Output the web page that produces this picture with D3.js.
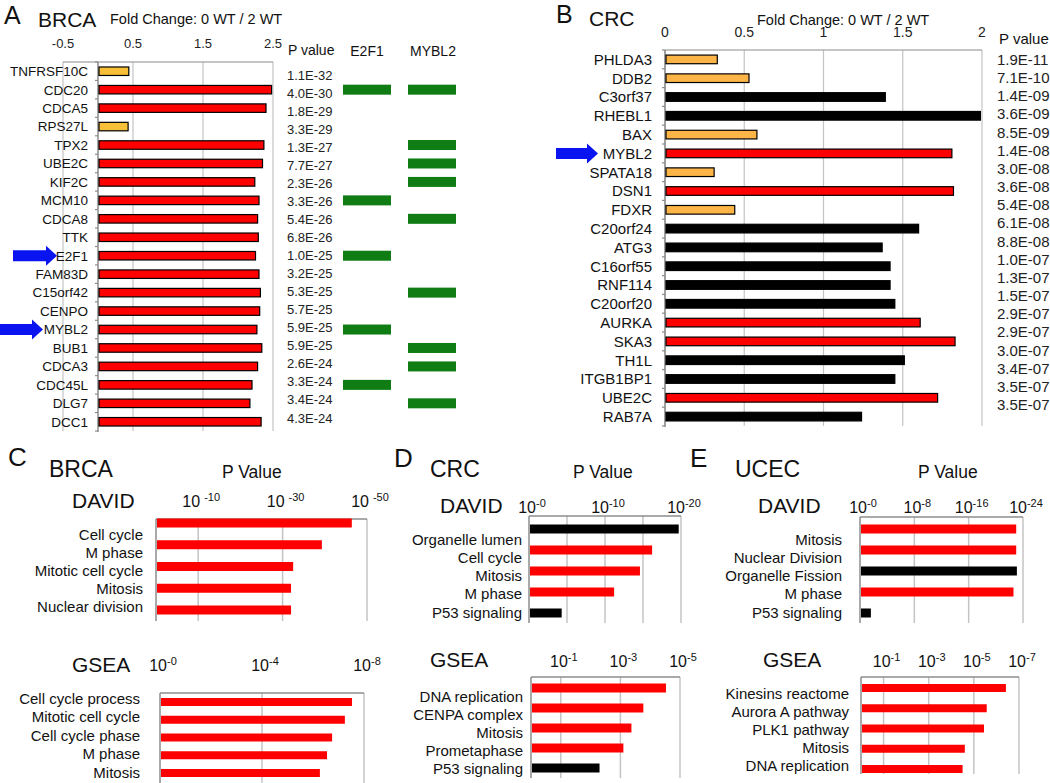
<!DOCTYPE html>
<html>
<head>
<meta charset="utf-8">
<script src="https://cdn.jsdelivr.net/npm/d3@7"></script>
<style>
body { margin: 0; background: #fff; }
svg { font-family: "Liberation Sans", Arial, sans-serif; }
</style>
</head>
<body>
<svg id="fig" width="1050" height="783"></svg>
<script>
// ---- A: BRCA fold change ----
var brcaGenes = ["TNFRSF10C","CDC20","CDCA5","RPS27L","TPX2","UBE2C","KIF2C","MCM10","CDCA8","TTK",
                 "E2F1","FAM83D","C15orf42","CENPO","MYBL2","BUB1","CDCA3","CDC45L","DLG7","DCC1"];
var brcaFold = [0.44,2.48,2.40,0.43,2.37,2.35,2.24,2.30,2.28,2.29,2.25,2.30,2.32,2.31,2.27,2.34,2.28,2.20,2.17,2.33];
var brcaGroup = ["p53","cycle","cycle","p53","cycle","cycle","cycle","cycle","cycle","cycle",
                 "cycle","cycle","cycle","cycle","cycle","cycle","cycle","cycle","cycle","cycle"];
var brcaPval = ["1.1E-32","4.0E-30","1.8E-29","3.3E-29","1.3E-27","7.7E-27","2.3E-26","3.3E-26","5.4E-26","6.8E-26",
                "1.0E-25","3.2E-25","5.3E-25","5.7E-25","5.9E-25","5.9E-25","2.6E-24","3.3E-24","3.4E-24","4.3E-24"];
var brcaE2F1  = [0,1,0,0,0,0,0,1,0,0,1,0,0,0,1,0,0,1,0,0];
var brcaMYBL2 = [0,1,0,0,1,1,1,0,1,0,0,0,1,0,0,1,1,0,1,0];
var brcaTicks = [-0.5, 0.5, 1.5, 2.5];

// ---- B: CRC fold change ----
var crcGenes = ["PHLDA3","DDB2","C3orf37","RHEBL1","BAX","MYBL2","SPATA18","DSN1","FDXR","C20orf24",
                "ATG3","C16orf55","RNF114","C20orf20","AURKA","SKA3","TH1L","ITGB1BP1","UBE2C","RAB7A"];
var crcFold = [0.33,0.53,1.39,1.99,0.58,1.81,0.31,1.82,0.44,1.60,1.37,1.42,1.42,1.45,1.61,1.83,1.51,1.45,1.72,1.24];
var crcGroup = ["p53","p53","other","other","p53","cycle","p53","cycle","p53","other",
                "other","other","other","other","cycle","cycle","other","other","cycle","other"];
var crcPval = ["1.9E-11","7.1E-10","1.4E-09","3.6E-09","8.5E-09","1.4E-08","3.0E-08","3.6E-08","5.4E-08","6.1E-08",
               "8.8E-08","1.0E-07","1.3E-07","1.5E-07","2.9E-07","2.9E-07","3.0E-07","3.4E-07","3.5E-07","3.5E-07"];
var crcTicks = [0, 0.5, 1, 1.5, 2];

// ---- C/D/E: enrichment, -log10(P) ----
var cDavidTerms = ["Cell cycle","M phase","Mitotic cell cycle","Mitosis","Nuclear division"];
var cDavidLogP = [46.4, 39.3, 32.5, 32.0, 32.0];
var cDavidGroup = ["cycle","cycle","cycle","cycle","cycle"];
var cDavidTicks = [10, 30, 50];

var cGseaTerms = ["Cell cycle process","Mitotic cell cycle","Cell cycle phase","M phase","Mitosis"];
var cGseaLogP = [7.53, 7.25, 6.75, 6.55, 6.27];
var cGseaGroup = ["cycle","cycle","cycle","cycle","cycle"];
var cGseaTicks = [0, 4, 8];

var dDavidTerms = ["Organelle lumen","Cell cycle","Mitosis","M phase","P53 signaling"];
var dDavidLogP = [19.7, 16.2, 14.6, 11.2, 4.3];
var dDavidGroup = ["other","cycle","cycle","cycle","other"];
var dDavidTicks = [0, 10, 20];

var dGseaTerms = ["DNA replication","CENPA complex","Mitosis","Prometaphase","P53 signaling"];
var dGseaLogP = [4.53, 3.77, 3.37, 3.10, 2.30];
var dGseaGroup = ["cycle","cycle","cycle","cycle","other"];
var dGseaTicks = [1, 3, 5];

var eDavidTerms = ["Mitosis","Nuclear Division","Organelle Fission","M phase","P53 signaling"];
var eDavidLogP = [23.0, 23.0, 23.1, 22.6, 1.6];
var eDavidGroup = ["cycle","cycle","other","cycle","other"];
var eDavidTicks = [0, 8, 16, 24];

var eGseaTerms = ["Kinesins reactome","Aurora A pathway","PLK1 pathway","Mitosis","DNA replication"];
var eGseaLogP = [6.42, 5.57, 5.45, 4.60, 4.50];
var eGseaGroup = ["cycle","cycle","cycle","cycle","cycle"];
var eGseaTicks = [1, 3, 5, 7];

var svg = d3.select("#fig");
var axisCol = "#8c8c8c", gridCol = "#c4c4c4";
var colorA = d3.scaleOrdinal().domain(["p53","cycle","other"]).range(["#f8bf38","#ff0000","#000000"]);
var colorB = d3.scaleOrdinal().domain(["p53","cycle","other"]).range(["#fdb547","#ff0000","#000000"]);

function label(x, y, txt, size, anchor) {
  return svg.append("text").attr("x", x).attr("y", y).attr("font-size", size)
    .attr("text-anchor", anchor || "start").attr("fill", "#111").text(txt);
}

function arrow(x0, x1, y) {
  var head = 11, sh = 5.5, hh = 10;
  svg.append("path")
    .attr("d", "M" + x0 + "," + (y - sh) + "H" + (x1 - head) + "V" + (y - hh) + "L" + x1 + "," + y +
               "L" + (x1 - head) + "," + (y + hh) + "V" + (y + sh) + "H" + x0 + "Z")
    .attr("fill", "#0a14f0");
}

// generic fold-change bar panel
function foldPanel(genes, vals, groups, ticks, color, x, y, opt) {
  var g = svg.append("g");
  g.selectAll(".grid").data(ticks).enter().append("line")
    .attr("x1", x).attr("x2", x).attr("y1", y.range()[0]).attr("y2", y.range()[1])
    .attr("stroke", gridCol).attr("stroke-width", 1.2);
  g.append("line").attr("x1", x.range()[0]).attr("x2", x.range()[1])
    .attr("y1", y.range()[0]).attr("y2", y.range()[0]).attr("stroke", axisCol).attr("stroke-width", 1.2);
  g.append("line").attr("x1", x(0)).attr("x2", x(0))
    .attr("y1", y.range()[0]).attr("y2", y.range()[1] + 1).attr("stroke", axisCol).attr("stroke-width", 1.5);
  g.selectAll(".tk").data(d3.range(genes.length + 1)).enter().append("line")
    .attr("x1", x(0) - 3).attr("x2", x(0))
    .attr("y1", function(i) { return y.range()[0] + i * y.step(); })
    .attr("y2", function(i) { return y.range()[0] + i * y.step(); })
    .attr("stroke", axisCol).attr("stroke-width", 1.2);
  g.selectAll(".tl").data(ticks).enter().append("text")
    .attr("x", function(d) { return x(d); }).attr("y", opt.tickY)
    .attr("text-anchor", "middle").attr("font-size", opt.tickSize).attr("fill", "#222")
    .text(function(d) { return d; });
  g.selectAll(".bar").data(genes).enter().append("rect")
    .attr("x", x(0) + 1).attr("y", function(d) { return y(d); })
    .attr("width", function(d, i) { return x(vals[i]) - x(0) - 1; })
    .attr("height", y.bandwidth())
    .attr("fill", function(d, i) { return color(groups[i]); })
    .attr("stroke", "#000").attr("stroke-width", 1.2);
  g.selectAll(".gl").data(genes).enter().append("text")
    .attr("x", opt.labelX).attr("y", function(d) { return y(d) + y.bandwidth() / 2 + opt.labelSize * 0.36; })
    .attr("text-anchor", "end").attr("font-size", opt.labelSize).attr("fill", "#111")
    .text(function(d) { return d; });
}

// ---- panel A ----
var xA = d3.scaleLinear().domain([-0.5, 2.5]).range([63, 273]);
var yA = d3.scaleBand().domain(brcaGenes).range([62, 431]).paddingInner(0.54).paddingOuter(0.27);
foldPanel(brcaGenes, brcaFold, brcaGroup, brcaTicks, colorA, xA, yA,
  { tickY: 48, tickSize: 13, labelX: 88, labelSize: 13.5 });
label(4, 24, "A", 25);
label(38, 27, "BRCA", 21);
label(110, 24, "Fold Change: 0 WT / 2 WT", 14.5);
label(288, 55, "P value", 14);
label(367, 56, "E2F1", 14, "middle");
label(433, 56, "MYBL2", 14, "middle");
var yPA = d3.scalePoint().domain(d3.range(brcaPval.length)).range([75, 418]);
svg.selectAll(".pa").data(brcaPval).enter().append("text")
  .attr("x", 287).attr("y", function(d, i) { return yPA(i) + 4.5; })
  .attr("font-size", 13).attr("fill", "#222").text(function(d) { return d; });
var boundCols = [{name: "E2F1", flags: brcaE2F1, x: 343}, {name: "MYBL2", flags: brcaMYBL2, x: 408}];
boundCols.forEach(function(c) {
  svg.selectAll(".b" + c.name).data(brcaGenes.filter(function(d, i) { return c.flags[i]; }))
    .enter().append("rect")
    .attr("x", c.x).attr("y", function(d) { return yA(d) + yA.bandwidth() / 2 - 5; })
    .attr("width", 48).attr("height", 10).attr("fill", "#0f7d14");
});
arrow(13, 57, yA("E2F1") + yA.bandwidth() / 2);
arrow(0, 43, yA("MYBL2") + yA.bandwidth() / 2);

// ---- panel B ----
var xB = d3.scaleLinear().domain([0, 2]).range([665, 982]);
var yB = d3.scaleBand().domain(crcGenes).range([50, 426]).paddingInner(0.54).paddingOuter(0.27);
foldPanel(crcGenes, crcFold, crcGroup, crcTicks, colorB, xB, yB,
  { tickY: 37, tickSize: 14, labelX: 652, labelSize: 15 });
label(556, 23, "B", 25);
label(589, 26, "CRC", 21);
label(757, 25, "Fold Change: 0 WT / 2 WT", 14.5);
label(999, 44, "P value", 15);
var yPB = d3.scalePoint().domain(d3.range(crcPval.length)).range([60, 405]);
svg.selectAll(".pb").data(crcPval).enter().append("text")
  .attr("x", 997).attr("y", function(d, i) { return yPB(i) + 5; })
  .attr("font-size", 15).attr("fill", "#222").text(function(d) { return d; });
arrow(556, 598, yB("MYBL2") + yB.bandwidth() / 2);

// ---- enrichment panels ----
function enrich(terms, vals, groups, ticks, cfg) {
  var g = svg.append("g");
  var x = d3.scaleLinear().domain([0, cfg.max]).range([cfg.x0, cfg.x1]);
  var yb = d3.scalePoint().domain(terms).range(cfg.bars);
  var yl = d3.scalePoint().domain(terms).range(cfg.labels);
  g.selectAll(".grid").data(cfg.grid).enter().append("line")
    .attr("x1", x).attr("x2", x).attr("y1", cfg.top).attr("y2", cfg.bottom)
    .attr("stroke", gridCol).attr("stroke-width", 1.5);
  g.append("line").attr("x1", cfg.x0).attr("x2", cfg.x1).attr("y1", cfg.top).attr("y2", cfg.top)
    .attr("stroke", axisCol).attr("stroke-width", 1.5);
  g.append("line").attr("x1", cfg.x0).attr("x2", cfg.x0).attr("y1", cfg.top).attr("y2", cfg.bottom)
    .attr("stroke", axisCol).attr("stroke-width", 1.5);
  g.selectAll(".bar").data(terms).enter().append("rect")
    .attr("x", cfg.x0 + 1).attr("y", function(d) { return yb(d) - cfg.barH / 2; })
    .attr("width", function(d, i) { return x(vals[i]) - cfg.x0 - 1; })
    .attr("height", cfg.barH)
    .attr("fill", function(d, i) { return colorA(groups[i]); });
  g.selectAll(".lab").data(terms).enter().append("text")
    .attr("x", cfg.labelX).attr("y", function(d) { return yl(d) + 5.5; })
    .attr("text-anchor", "end").attr("font-size", 15).attr("fill", "#111")
    .text(function(d) { return d; });
  var tl = g.selectAll(".tl").data(ticks).enter().append("text")
    .attr("x", function(d) { return x(d) + 3; }).attr("y", cfg.tickY)
    .attr("text-anchor", "middle").attr("font-size", 16).attr("fill", "#111");
  tl.append("tspan").text("10");
  tl.append("tspan").attr("dx", cfg.supGap || 0).attr("dy", -6).attr("font-size", 11)
    .text(function(d) { return "-" + d; });
}

// C
label(8, 466, "C", 26);
label(49, 477, "BRCA", 23);
label(222, 478, "P Value", 17.5);
label(72, 508, "DAVID", 21);
label(72, 672, "GSEA", 21);
enrich(cDavidTerms, cDavidLogP, cDavidGroup, cDavidTicks,
  { max: 50, x0: 156, x1: 367, top: 519, bottom: 621, bars: [523, 610], labels: [534, 606],
    labelX: 143, barH: 9, tickY: 507, grid: [10, 30, 50], supGap: 4 });
enrich(cGseaTerms, cGseaLogP, cGseaGroup, cGseaTicks,
  { max: 8, x0: 160, x1: 364, top: 693, bottom: 790, bars: [702, 773], labels: [698, 772],
    labelX: 140, barH: 8, tickY: 671, grid: [4, 8] });

// D
label(394, 467, "D", 26);
label(430, 477, "CRC", 23);
label(573, 478, "P Value", 17.5);
label(440, 513, "DAVID", 21);
label(430, 667, "GSEA", 21);
enrich(dDavidTerms, dDavidLogP, dDavidGroup, dDavidTicks,
  { max: 20, x0: 529, x1: 681, top: 516, bottom: 623, bars: [529, 613], labels: [539, 612],
    labelX: 522, barH: 9, tickY: 513, grid: [5, 10, 15, 20] });
enrich(dGseaTerms, dGseaLogP, dGseaGroup, dGseaTicks,
  { max: 5, x0: 531, x1: 680, top: 677, bottom: 778, bars: [688, 768], labels: [696, 768],
    labelX: 523, barH: 9, tickY: 667, grid: [1, 3, 5] });

// E
label(690, 467, "E", 26);
label(735, 477, "UCEC", 23);
label(918, 478, "P Value", 17.5);
label(758, 513, "DAVID", 21);
label(763, 667, "GSEA", 21);
enrich(eDavidTerms, eDavidLogP, eDavidGroup, eDavidTicks,
  { max: 24, x0: 860, x1: 1023, top: 517, bottom: 623, bars: [529, 613], labels: [539, 612],
    labelX: 842, barH: 9, tickY: 513, grid: [8, 16, 24] });
enrich(eGseaTerms, eGseaLogP, eGseaGroup, eGseaTicks,
  { max: 7, x0: 861, x1: 1019, top: 677, bottom: 774, bars: [688, 769], labels: [693, 765],
    labelX: 849, barH: 8, tickY: 667, grid: [1, 3, 5, 7] });
</script>
</body>
</html>
